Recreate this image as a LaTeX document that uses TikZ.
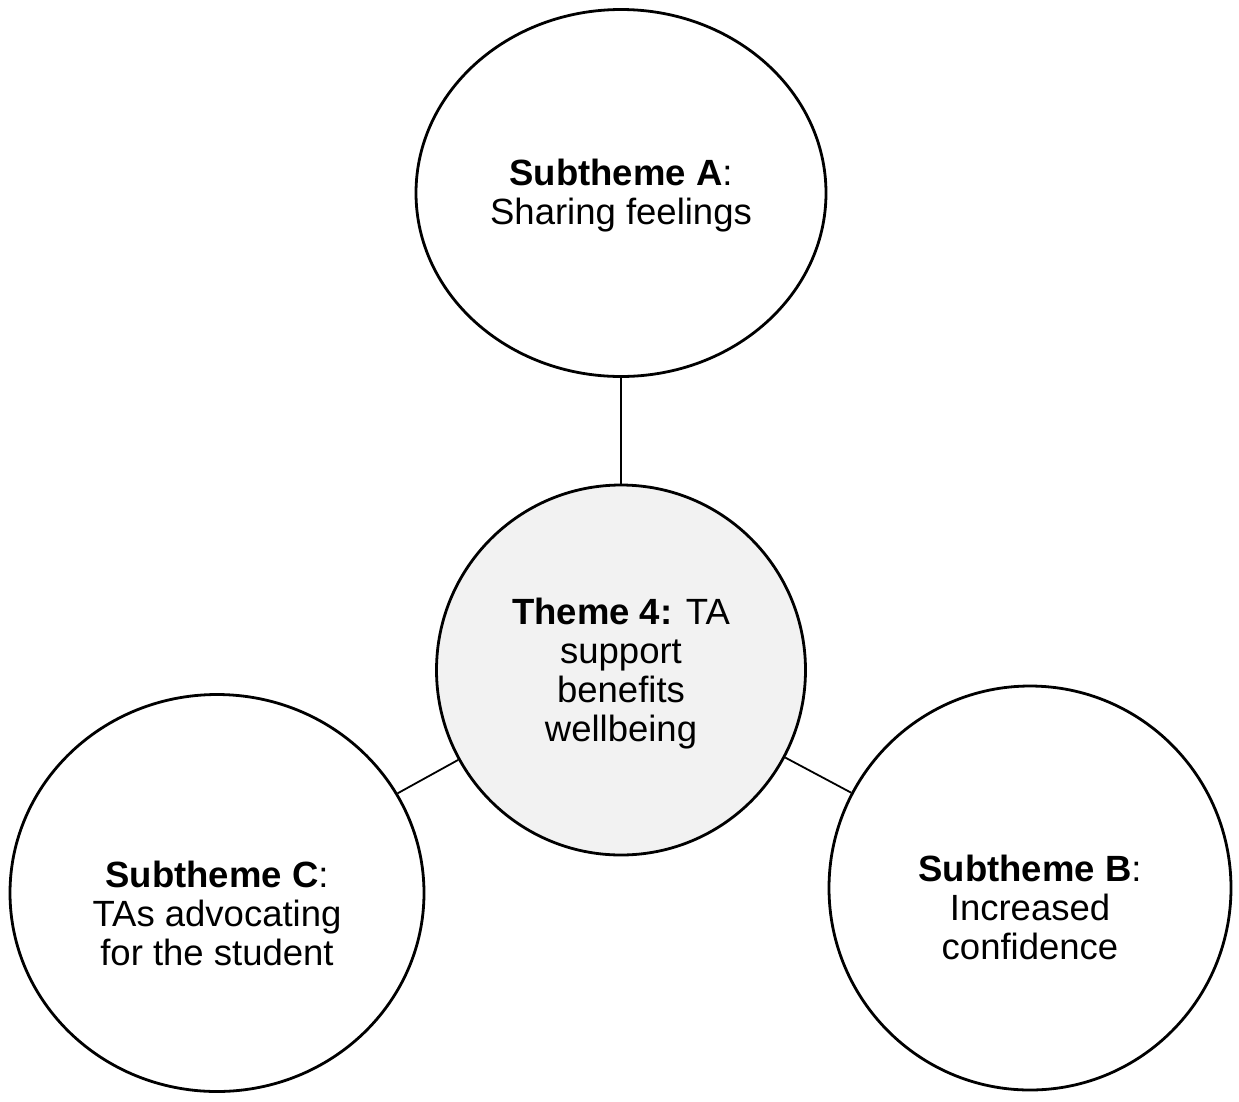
\documentclass[tikz,border=0pt]{standalone}
\usepackage{fontspec}
\setmainfont{Liberation Sans}
\usetikzlibrary{shapes.geometric}
\begin{document}
\begin{tikzpicture}[x=1pt,y=-1pt,
  bubble/.style={ellipse, draw=black, line width=2.8pt, inner sep=0pt},
  btext/.style={align=center, inner sep=0pt, font=\fontsize{36.5}{39}\selectfont},
  link/.style={draw=black, line width=1.8pt}]
\useasboundingbox (0,0) rectangle (1239,1101);
\node[bubble, minimum width=410pt, minimum height=367pt] (a) at (621,193) {};
\node[bubble, fill={rgb,255:red,242;green,242;blue,242}, minimum width=369pt, minimum height=370pt] (t) at (621,670) {};
\node[bubble, minimum width=414pt, minimum height=397pt] (c) at (217,893) {};
\node[bubble, minimum width=402pt, minimum height=404pt] (b) at (1030,888) {};
\node[btext] (atext) at ([yshift=-3pt]a.center) {\textbf{Subtheme A}:\\Sharing feelings};
\node[btext] (ttext) at ([yshift=-4pt]t.center) {\textbf{Theme 4:} TA\\support\\benefits\\wellbeing};
\node[btext] (ctext) at ([yshift=-20pt]c.center) {\textbf{Subtheme C}:\\TAs advocating\\for the student};
\node[btext] (btext) at ([yshift=-19pt]b.center) {\textbf{Subtheme B}:\\Increased\\confidence};
\draw[link] (a) -- (t);
\draw[link] (t) -- (c);
\draw[link] (t) -- (b);
\end{tikzpicture}
\end{document}
